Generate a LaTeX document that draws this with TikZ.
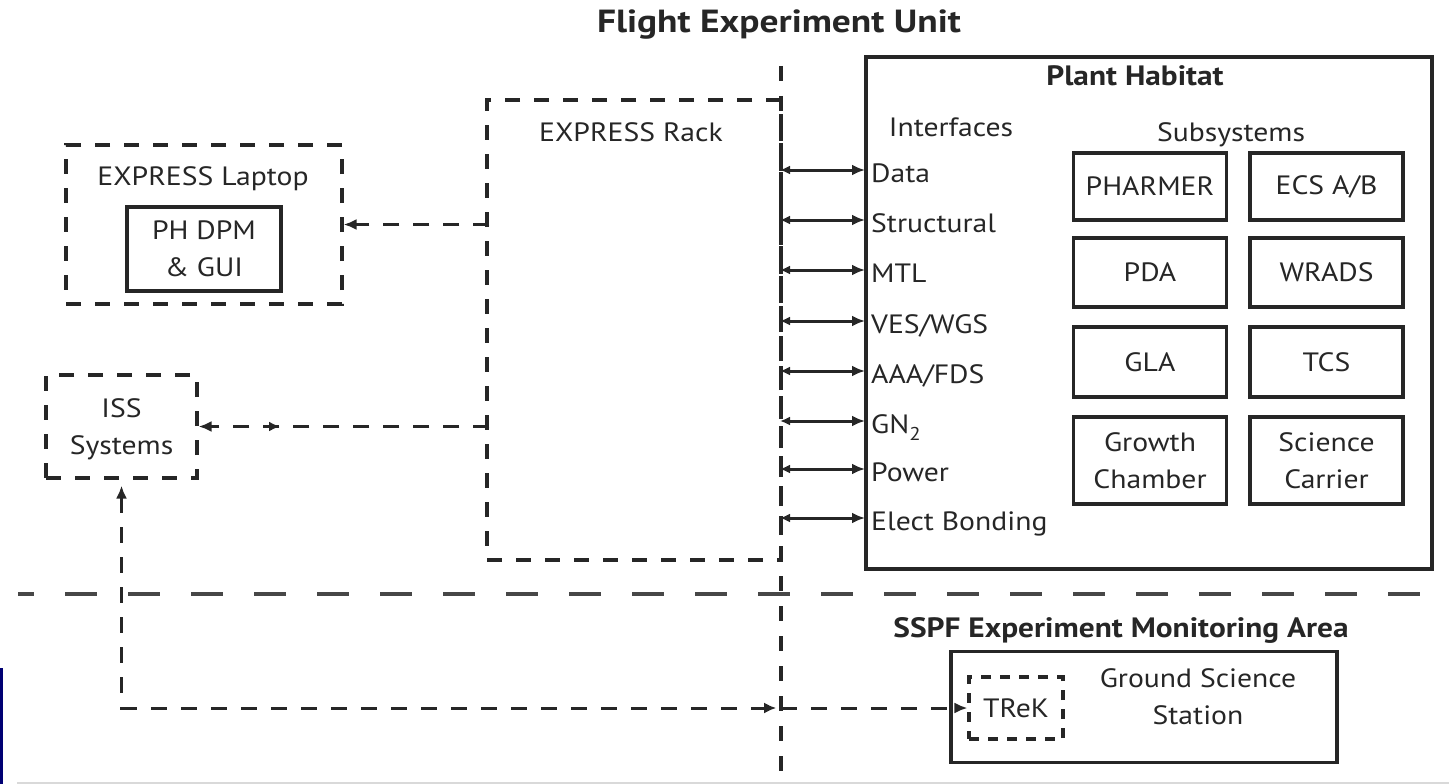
\documentclass[tikz,border=0pt]{standalone}
\usepackage{fontspec}
\setmainfont[FakeStretch=1.12]{PT Sans}
\newfontfamily\hdfont[FakeStretch=1.12]{PT Sans}
\newfontfamily\ttlfont[FakeStretch=1.17]{PT Sans}
\usetikzlibrary{arrows.meta,decorations.markings}
\definecolor{ink}{HTML}{262626}
\begin{document}
\begin{tikzpicture}[x=1pt,y=-1pt,
  every node/.style={font=\fontsize{26.5}{37}\selectfont, text=ink, inner sep=0pt},
  boldlbl/.style={font=\hdfont\bfseries\fontsize{28}{37}\selectfont},
  titlelbl/.style={font=\ttlfont\bfseries\fontsize{32}{37}\selectfont},
  sbox/.style={draw=ink, line width=3.1pt},
  dbox/.style={draw=ink, line width=3.1pt, dash pattern=on 15pt off 14pt},
  subbox/.style={sbox, minimum width=153, align=center},
  darrow/.style={draw=ink, line width=3pt, dash pattern=on 16pt off 14pt, -{Latex[length=13pt,width=11pt]}},
  biarrow/.style={draw=ink, line width=3pt, {Latex[length=10pt,width=9pt]}-{Latex[length=13pt,width=11pt]}},
  vdash/.style={draw=ink, line width=3.2pt, dash pattern=on 15pt off 15pt},
  hdash/.style={draw=ink!85, line width=3.6pt, dash pattern=on 32pt off 31pt, dash phase=16pt}
]
\useasboundingbox (0,0) rectangle (1449,784);

% title
\node[titlelbl, anchor=base] (title) at (779,33) {Flight Experiment Unit};

% separators
\coordinate (vtop) at (781,66);
\coordinate (vbot) at (781,784);
\draw[vdash] (vtop) -- (vbot);
\coordinate (hl) at (18,594);
\coordinate (hr) at (1449,594);
\draw[hdash] (hl) -- (hr);

% EXPRESS Laptop
\node[dbox, minimum width=276, minimum height=159] (laptop) at (204,224.5) {};
\node[anchor=base] (laptoplbl) at (203,185) {EXPRESS Laptop};
\node[sbox, minimum width=154, minimum height=84, align=center] (phdpm) at (204,249) {PH DPM\\\& GUI};

% ISS Systems
\node[dbox, minimum width=151, minimum height=103, align=center, text depth=0pt] (iss) at (121.5,426.5) {ISS\\Systems};

% EXPRESS Rack
\node[dbox, minimum width=294, minimum height=460] (rack) at (634,330) {};
\node[anchor=base] (racklbl) at (631,141) {EXPRESS Rack};

% Plant Habitat
\node[sbox, minimum width=566, minimum height=512] (plant) at (1149,313) {};
\node[boldlbl, anchor=base] (plantlbl) at (1135,85) {Plant Habitat};
\node[anchor=base] (iflbl) at (951,136) {Interfaces};
\node[anchor=base] (sslbl) at (1231,141) {Subsystems};

\node[subbox, minimum height=67] (pharmer) at (1150,186.5) {PHARMER};
\node[subbox, minimum height=67] (ecs) at (1326.5,186.5) {ECS A/B};
\node[subbox, minimum height=69] (pda) at (1150,272.5) {PDA};
\node[subbox, minimum height=69] (wrads) at (1326.5,272.5) {WRADS};
\node[subbox, minimum height=70] (gla) at (1150,362) {GLA};
\node[subbox, minimum height=70] (tcs) at (1326.5,362) {TCS};
\node[subbox, minimum height=87] (growth) at (1150,460.5) {Growth\\Chamber};
\node[subbox, minimum height=87] (carrier) at (1326.5,460.5) {Science\\Carrier};

% interfaces
\foreach \i/\y/\t in {1/170/{Data}, 2/220/{Structural}, 3/270/{MTL}, 4/321/{VES/WGS},
                       5/371/{AAA/FDS}, 6/421/{GN\raisebox{-3pt}{\textsubscript{2}}}, 7/469/{Power}, 8/518/{Elect Bonding}}{
  \coordinate (il\i) at (780,\y);
  \coordinate (ir\i) at (865,\y);
  \draw[biarrow] (il\i) -- (ir\i);
  \node[anchor=base west] (if\i) at (871,\y+12) {\t};
}

% SSPF area
\node[boldlbl, anchor=base] (sspf) at (1121,637) {SSPF Experiment Monitoring Area};
\node[sbox, minimum width=386, minimum height=111] (gss) at (1144,707) {};
\node[align=center] (gsslbl) at (1198,697) {Ground Science\\Station};
\node[dbox, dash pattern=on 10pt off 9pt, minimum width=94, minimum height=62] (trek) at (1016,708) {TReK};

% connectors
\draw[darrow] ([xshift=4pt]rack.west |- laptop.east) -- (laptop.east);
\draw[darrow, postaction={decorate}, decoration={markings,
   mark=at position 0.72 with {\arrowreversed{Latex[length=11pt,width=10pt]}}}]
   ([xshift=4pt]rack.west |- iss.east) -- (iss.east);
\draw[draw=ink, line width=3pt, dash pattern=on 16pt off 14pt,
   {Latex[length=13pt,width=11pt]}-{Latex[length=13pt,width=11pt]}, shorten <=6pt,
   postaction={decorate}, decoration={markings,
   mark=at position 0.822 with {\arrow{Latex[length=12pt,width=11pt]}}}]
   (iss.south) |- (trek.west);

% image edge artefacts
\coordinate (gl) at (17,783);
\coordinate (gr) at (1449,783);
\draw[black!15, line width=1.5pt] (gl) -- (gr);
\fill[blue!45!black] (0,668) rectangle (3,784);
\end{tikzpicture}
\end{document}
